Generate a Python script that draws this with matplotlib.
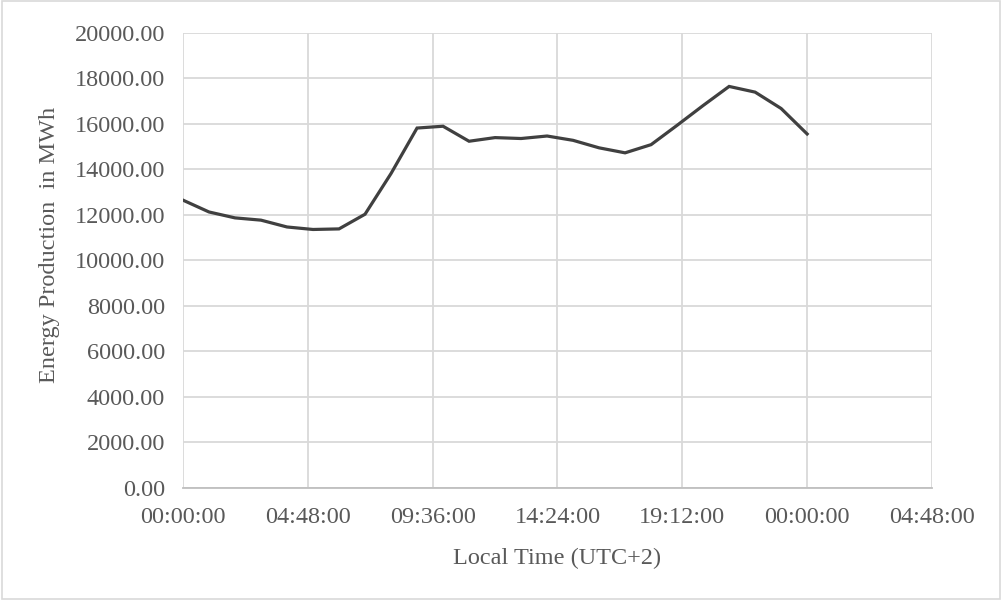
import numpy as np
import matplotlib
matplotlib.use("Agg")
import matplotlib.pyplot as plt
from matplotlib.patches import Rectangle

# hourly values (hours since local midnight)
hours = [0, 1, 2, 3, 4, 5, 6, 7, 8, 9, 10, 11, 12,
         13, 14, 15, 16, 17, 18, 19, 20, 21, 22, 23, 24]
energy = [12650, 12130, 11870, 11770, 11470, 11360, 11385, 12030, 13820, 15820, 15900, 15240, 15400,
          15360, 15470, 15280, 14950, 14730, 15090, 15940, 16810, 17650, 17400, 16680, 15560]

x_ticks = [0, 4.8, 9.6, 14.4, 19.2, 24.0, 28.8]
x_labels = ["00:00:00", "04:48:00", "09:36:00", "14:24:00", "19:12:00", "00:00:00", "04:48:00"]
y_ticks = np.arange(0, 20001, 2000)

plt.rcParams['font.family'] = ['Liberation Serif', 'DejaVu Serif']
text_col = "#595959"
fs = 17.5

fig = plt.figure(figsize=(10.02, 6), dpi=100)
ax = fig.add_axes([0.1826, 0.187, 0.7475, 0.758])

ax.plot(hours, energy, color="#404040", linewidth=2.3, solid_joinstyle="miter")

ax.set_xlim(0, 28.8)
ax.set_ylim(0, 20000)
ax.set_xticks(x_ticks)
ax.set_xticklabels(x_labels)
ax.set_yticks(y_ticks)
ax.set_yticklabels(["%.2f" % v for v in y_ticks])

ax.grid(True, color="#d9d9d9", linewidth=1.3)
ax.set_axisbelow(True)
for s in ["top", "right", "left"]:
    ax.spines[s].set_visible(False)
ax.spines["bottom"].set_color("#bfbfbf")
ax.spines["bottom"].set_linewidth(1.3)

ax.tick_params(axis="both", length=0, labelsize=fs, colors=text_col)
ax.tick_params(axis="y", pad=13)
ax.tick_params(axis="x", pad=14)

ax.set_xlabel("Local Time (UTC+2)", fontsize=fs, color=text_col, labelpad=14)
ax.set_ylabel("Energy Production  in MWh", fontsize=fs, color=text_col)
ax.yaxis.set_label_coords(-0.164, 0.534)

# light border around the whole chart area
fig.patches.append(Rectangle((0.002, 0.002), 0.996, 0.996, transform=fig.transFigure,
                             fill=False, edgecolor="#d9d9d9", linewidth=1.2))

fig.savefig("out.png", dpi=100)
